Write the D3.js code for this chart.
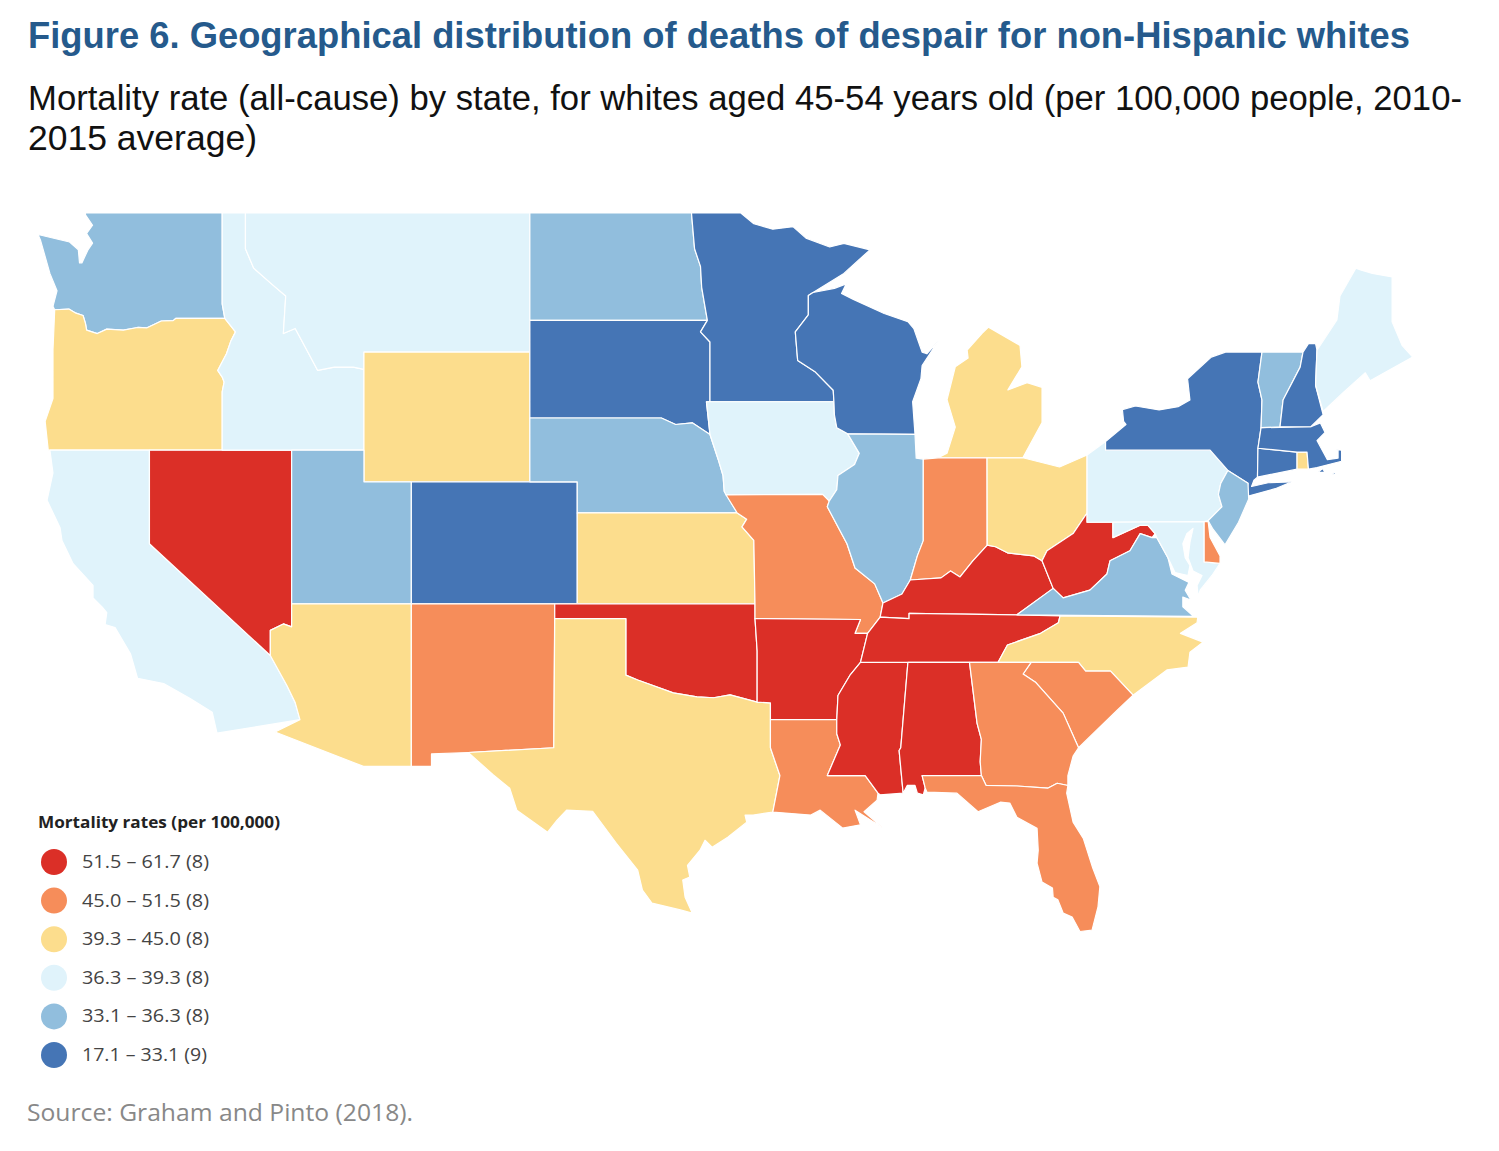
<!DOCTYPE html>
<meta charset="utf-8">
<style>
body { margin: 0; background: #fff; }
.state { stroke: #fff; stroke-width: 1.2; stroke-linejoin: round; }
.head { font-family: "Liberation Sans", sans-serif; }
.body { font-family: "Open Sans", sans-serif; }
</style>
<body>
<script src="https://cdnjs.cloudflare.com/ajax/libs/d3/7.8.5/d3.min.js"></script>
<script>

// legend classes, highest first
var binLabels = ["51.5 – 61.7 (8)", "45.0 – 51.5 (8)", "39.3 – 45.0 (8)", "36.3 – 39.3 (8)", "33.1 – 36.3 (8)", "17.1 – 33.1 (9)"];
var binColors = ["#db2f27", "#f68d5a", "#fcdd8d", "#e0f3fb", "#91bedd", "#4575b5"];

// which class each state falls in
var stateNames = ["WA","OR","CA","NV","ID","MT","WY","UT","AZ","CO","NM","ND","SD","NE","KS","OK","TX","MN","IA","MO","AR","LA","WI","IL","MS","MI","IN","KY","TN","AL","OH","WV","VA","NC","SC","GA","FL","PA","NY","MD","DE","NJ","CT","RI","MA","VT","NH","ME"];
var stateBins  = [4,2,3,0,3,3,2,4,2,5,1,4,5,4,2,0,2,5,3,1,0,1,5,4,0,2,1,0,0,0,2,0,4,2,1,1,1,3,5,3,1,4,5,2,5,4,5,3];

// shared borders, lon/lat
var columbia = [[-124.1,46.25],[-123.5,46.27],[-123.2,46.15],[-122.9,46.08],[-122.8,45.85],[-122.75,45.65],[-122.3,45.55],[-121.9,45.68],[-121.2,45.65],[-120.6,45.73],[-120.2,45.72],[-119.6,45.92],[-119.1,45.93],[-118.98,46],[-116.92,46]];
var snake = [[-116.92,46],[-116.47,45.6],[-116.67,45.32],[-116.85,44.95],[-117.22,44.45],[-117.03,44.25],[-116.95,44.1],[-117.03,43.8],[-117.03,42]];
var idahoMontana = [[-116.05,48],[-115.7,47.45],[-114.95,47],[-114.35,46.65],[-114.45,45.55],[-113.95,45.7],[-113.45,45.05],[-113,44.45],[-112.3,44.55],[-111.5,44.55],[-111.05,44.48]];
var redRiver = [[-100,34.56],[-99.5,34.39],[-98,33.94],[-97,33.8],[-96.3,33.77],[-95.6,33.87],[-94.46,33.62]];
var coloradoRiver = [[-115,35.24],[-114.3,34.2],[-113.95,33.6],[-113.75,33]];
var missouriRiver = [[-96.45,42.49],[-96.1,41.7],[-95.9,41.2],[-95.85,40.7],[-95.3,40],[-94.9,39.8],[-95.1,39.55],[-94.6,39.11]];
var dakotaMn = [[-97.23,49],[-97.1,48],[-96.85,47.5],[-96.8,46.9],[-96.56,45.94],[-96.85,45.6],[-96.45,45.3],[-96.45,43.5]];
var wiMn = [[-92.1,46.75],[-92.3,46.66],[-92.3,46.1],[-92.85,45.6],[-92.75,44.75],[-92,44.4],[-91.25,43.85],[-91.22,43.5],[-91.2,43.1],[-91.1,42.7],[-90.64,42.51]];
var upperMiss = [[-90.64,42.51],[-90.15,41.9],[-90.35,41.55],[-91.05,41.2],[-91.1,40.75],[-91.42,40.38]];
var midMiss = [[-91.42,40.38],[-91.5,40.2],[-90.67,39],[-90.33,38.2],[-89.5,37.67],[-89.15,37.03]];
var lowerMiss = [[-90.1,35],[-90.55,34.55],[-91.05,33.85],[-91.1,33]];
var ohioRiver = [[-89.15,37.03],[-88.35,37.33],[-88,37.8],[-86.7,37.87],[-86.3,38.1],[-85.9,37.9],[-85.35,38.44],[-84.75,38.95],[-84.4,38.9],[-83.9,38.7],[-82.8,38.6],[-82.44,38.44]];
var ncTn = [[-81.68,36.59],[-81.75,36.36],[-82.5,36],[-83.9,35.6],[-84.3,35]];
var gaSc = [[-82.9,35],[-83.24,34.6],[-82.7,34.3],[-81.55,33.23],[-80.9,32]];
var ncSc = [[-82.9,35],[-80.9,35],[-80.6,34.7],[-79.55,34.7],[-78.6,33.86]];

function rev(a) { return a.slice().reverse(); }

// rings per state, same order as stateNames
var stateRings = [
  [[[-124.8,48.4],[-123.47,48.19],[-123.1,47.97],[-123.05,47.6],[-122.95,47.6],[-122.7,47.96],[-122.5,48.16],[-122.75,48.43],[-122.5,48.66],[-122.8,48.95],[-122.8,49],[-117.03,49],[-117.03,46.42],...rev(columbia),[-124.17,46.35],[-124,46.8],[-124.3,47.3],[-124.7,48.25]]],
  [[...columbia,...snake.slice(1),[-124.37,42],[-124.5,42.9],[-124.17,43.6],[-124.17,45.06],[-124.1,46.2]]],
  [[[-124.3,42],[-120.1,42],[-120.1,39],...coloradoRiver,[-117.25,32.52],[-117.45,33.26],[-118.4,33.75],[-119.5,34.27],[-120.6,34.45],[-120.9,35.3],[-121.55,36.2],[-121.97,36.3],[-121.9,36.7],[-122.1,36.9],[-122.48,37.2],[-122.48,37.62],[-123.32,38.34],[-123.79,39.1],[-123.87,39.52],[-124.42,40.41],[-124.17,41.28]]],
  [[[-120.1,42],[-114.1,42],[-114.1,36.22],[-114.45,36.32],[-115,36.1],[-115,35.24],[-120.1,39]]],
  [[[-117.03,49],[-116.05,49],...idahoMontana,[-111.05,42],...rev(snake),[-117.03,46.42]]],
  [[[-116.05,49],[-104.05,49],[-104.05,45],[-111.05,45],...rev(idahoMontana)]],
  [[[-111.05,45],[-104.05,45],[-104.05,41],[-111.05,41]]],
  [[[-114.1,42],[-111.05,42],[-111.05,41],[-109.05,41],[-109.05,37],[-114.1,37]]],
  [[[-114.1,37],[-109.05,37],[-109.05,31.33],[-111.07,31.33],[-114.8,32.56],...rev(coloradoRiver),[-115,36.1],[-114.45,36.32],[-114.1,36.22]]],
  [[[-109.05,41],[-102.05,41],[-102.05,37],[-109.05,37]]],
  [[[-109.05,37],[-103,37],[-103.04,32],[-106.65,31.83],[-108.2,31.78],[-108.2,31.33],[-109.05,31.33]]],
  [[[-104.05,49],...dakotaMn.slice(0,5),[-104.05,45.94]]],
  [[[-104.05,45.94],...dakotaMn.slice(4),[-96.6,43.5],[-96.45,42.49],[-97.2,42.85],[-97.9,42.8],[-98.5,43],[-104.05,43]]],
  [[[-104.05,43],[-98.5,43],[-97.9,42.8],[-97.2,42.85],...missouriRiver.slice(0,5),[-102.05,40],[-102.05,41],[-104.05,41]]],
  [[[-102.05,40],...missouriRiver.slice(4),[-94.55,37],[-102.05,37]]],
  [[[-103,37],[-94.55,37],[-94.55,36.5],[-94.46,35.4],...rev(redRiver),[-100,36.5],[-103,36.5]]],
  [[[-103,36.5],[-100,36.5],...redRiver,[-93.9,33.59],[-93.9,32],[-93.5,31],[-93.8,29.67],[-94.63,29.56],[-94.97,29.56],[-94.9,29.3],[-95.7,28.74],[-96.36,28.37],[-96.66,28.63],[-96.87,28.26],[-97.4,27.7],[-97.3,27.26],[-97.6,27.15],[-97.5,26.5],[-97.2,25.9],[-97.7,26.02],[-98.9,26.28],[-99.3,26.77],[-99.5,27.52],[-100.4,28.52],[-101.4,29.7],[-102.5,29.74],[-102.9,29.37],[-103.3,28.93],[-104.6,29.74],[-104.9,30.54],[-105.6,31.03],[-106.65,31.83],[-103.04,32]]],
  [[...dakotaMn,...wiMn.slice(0,8).reverse(),[-90.8,47.3],[-89.7,47.97],[-90.8,48.15],[-91.4,48.05],[-92.4,48.3],[-92.95,48.62],[-93.8,48.55],[-94.6,48.7],[-95.15,49]].reverse()],
  [[[-96.45,43.5],[-91.22,43.5],[-91.2,43.1],[-91.1,42.7],...upperMiss,[-91.7,40.6],[-95.77,40.58],[-95.85,40.7],[-95.9,41.2],[-96.1,41.7],[-96.45,42.49],[-96.6,43.5]]],
  [[[-95.77,40.58],[-91.7,40.6],...midMiss,[-89.27,36.55],[-89.8,36],[-90.33,36],[-90.1,36.47],[-94.55,36.5],[-94.55,37],...rev(missouriRiver).slice(0,4)]],
  [[[-94.55,36.5],[-90.1,36.47],[-90.33,36],[-89.8,36],...lowerMiss,[-93.9,33],[-93.9,33.59],[-94.46,33.62],[-94.46,35.4]]],
  [[[-93.9,33],[-91.1,33],[-91.1,32.5],[-90.95,32.1],[-91.5,31],[-89.9,31],[-89.36,30.36],[-89.4,30.1],[-89.95,29.68],[-89.15,29.08],[-90.33,29.74],[-90.1,29.2],[-90.85,29.08],[-91.8,29.74],[-92.2,29.56],[-93.8,29.67],[-93.5,31],[-93.9,32]]],
  [[...wiMn,[-87.8,42.49],[-87.9,43.5],[-87.55,44.2],[-87.5,44.6],[-86.8,45.35],[-87.3,44.95],[-87.5,45],[-87.65,45.3],[-87.85,45.7],[-88.1,45.9],[-89.1,46.14],[-90.4,46.55],[-90.9,46.72],[-90.7,47],[-91.2,46.87]]],
  [[...upperMiss.slice(0,5),...midMiss,[-88.35,37.33],[-88,37.8],[-87.7,38.6],[-87.45,39.1],[-87.45,41.72],[-87.75,41.75],[-87.8,42.49]]],
  [[[-90.1,35],[-88.1,35],[-88.4,32],[-88.47,31.9],[-88.3,30.36],[-89.27,30.3],[-89.36,30.36],[-89.9,31],[-91.5,31],[-90.95,32.1],[-91.1,32.5],...rev(lowerMiss)]],
  [[[-86.82,41.76],[-84.76,41.76],[-83.25,41.76],[-82.44,42.86],[-82.44,43.94],[-83.07,44.08],[-83.88,43.86],[-83.29,44.56],[-83.37,45.2],[-84.7,45.74],[-84.97,45.56],[-85.6,45.06],[-85.56,44.82],[-86.1,44.56],[-86.45,43.56],[-86.1,42.72],[-86.45,41.9]]],
  [[[-87.45,41.72],[-86.82,41.76],[-84.76,41.76],[-84.76,38.95],...rev(ohioRiver.slice(2,8)),[-87.7,38.6],[-87.45,39.1]]],
  [[[-89.27,36.55],...ohioRiver,[-81.97,37.52],[-83.5,36.63],[-88.05,36.68],[-88.05,36.5]]],
  [[[-89.27,36.55],[-88.05,36.5],[-88.05,36.68],[-83.5,36.63],...ncTn,[-90.1,35],[-89.8,36]]],
  [[[-88.1,35],[-85.5,35],[-85.18,32.87],[-85,32.3],[-85.05,31.5],[-85,31],[-87.5,31],[-87.37,30.55],[-87.45,30.3],[-87.7,30.36],[-87.8,30.64],[-88.13,30.64],[-88.3,30.36],[-88.47,31.9],[-88.4,32]]],
  [[[-84.76,41.76],[-83.25,41.76],[-81.7,41.47],[-80.54,41.85],[-80.54,40],[-81.13,39.33],[-82.23,38.77],...rev(ohioRiver.slice(7))]],
  [[[-80.54,40],[-80.54,39.7],[-79.45,39.7],[-79.45,39.2],[-78.3,39.6],[-77.97,39.6],[-77.67,39.33],[-77.8,39.2],[-78.3,39.33],[-78.73,38.77],[-79.57,38.44],[-79.7,38],[-80.42,37.46],[-81.55,37.2],[-81.97,37.52],[-82.44,38.44],[-82.23,38.77],[-81.13,39.33]]],
  [[[-83.5,36.63],[-81.97,37.52],[-81.55,37.2],[-80.42,37.46],[-79.7,38],[-79.57,38.44],[-78.73,38.77],[-78.3,39.33],[-77.8,39.2],[-77.6,39.2],[-77.13,38.54],[-76.96,38],[-76.24,37.72],[-76.4,37.46],[-76.16,37.13],[-76.5,37.23],[-76.5,36.9],[-76.05,36.58]]],
  [[...ncTn,[-82.9,35],...ncSc.slice(1),[-77.17,34.74],[-76.28,34.84],[-76.2,35.35],[-75.65,35.7],[-76.6,36],[-75.9,36.36],[-75.87,36.55]]],
  [[...ncSc,[-79.27,33.33],...rev(gaSc).slice(0,4)]],
  [[[-85.5,35],...gaSc,[-81.13,31.7],[-81.35,31],[-81.35,30.64],[-81.8,30.72],[-82.2,30.54],[-83.5,30.62],[-84.8,30.64],[-85,31],[-85.05,31.5],[-85,32.3],[-85.18,32.87]]],
  [[[-87.5,31],[-85,31],[-84.8,30.64],[-83.5,30.62],[-82.2,30.54],[-81.8,30.72],[-81.35,30.64],[-81.4,30.36],[-81.13,29.3],[-80.7,28.7],[-80.3,27.6],[-80,26.9],[-80.08,26.13],[-80.33,25.25],[-80.84,25.2],[-81.17,25.75],[-81.55,25.9],[-81.77,26.4],[-81.97,26.5],[-82,26.85],[-82.44,27.07],[-82.65,27.78],[-82.6,28.26],[-82.65,29.07],[-83.5,29.48],[-83.8,30],[-84.2,30.03],[-85.14,29.68],[-86.03,30.36],[-87.3,30.4],[-87.37,30.55]]],
  [[[-80.54,41.85],[-79.76,42.27],[-79.76,42],[-75.35,42],[-74.6,41.36],[-74.9,40.95],[-75,40.6],[-74.85,40.2],[-75.43,39.75],[-75.6,39.72],[-80.54,39.7]]],
  [[[-79.76,42.27],[-79.76,42],[-75.35,42],[-74.6,41.36],[-73.75,40.95],[-73.85,40.52],[-72.6,40.78],[-71.9,41],[-72.9,40.97],[-73.6,40.85],[-73.5,41.05],[-73.35,41.15],[-73.33,42.06],[-73.2,42.7],[-73.16,43.55],[-73.33,44.1],[-73.16,45],[-74.7,45],[-75.3,44.85],[-76.3,44.2],[-76.2,43.55],[-76.7,43.35],[-77.5,43.25],[-78.5,43.37],[-79.05,43.26],[-79,42.9],[-78.9,42.8]]],
  [[[-79.45,39.7],[-75.6,39.72],[-75.6,38.4],[-74.93,38.35],[-75.27,37.95],[-75.77,37.46],[-75.85,37.23],[-75.9,37.62],[-75.69,37.95],[-76.07,38.1],[-76.28,38.54],[-76.2,39.04],[-76.07,39.5],[-76.33,39.33],[-76.5,39],[-76.4,38.54],[-76.2,38.28],[-76.28,37.95],[-76.83,38.05],[-77.13,38.54],[-77.6,39.2],[-77.67,39.33],[-77.97,39.6],[-78.3,39.6],[-79.45,39.2]]],
  [[[-75.6,39.72],[-75.43,39.72],[-75.35,39.2],[-74.93,38.6],[-74.93,38.35],[-75.6,38.4]]],
  [[[-74.6,41.36],[-73.75,40.95],[-73.72,40.45],[-74.15,39.7],[-74.72,38.96],[-75.25,39.5],[-75.43,39.75],[-74.85,40.2],[-75,40.6],[-74.9,40.95]]],
  [[[-73.33,42.06],[-71.68,41.94],[-71.68,41.4],[-73.35,41.15]]],
  [[[-71.68,41.94],[-71.26,41.94],[-71.2,41.4],[-71.68,41.4]]],
  [[[-73.2,42.7],[-71.1,42.73],[-70.7,42.85],[-70.5,42.55],[-70.84,42.3],[-70.4,41.7],[-69.95,41.75],[-69.95,42],[-70.1,42.02],[-69.8,42],[-69.8,41.65],[-70.84,41.45],[-71.2,41.4],[-71.26,41.94],[-71.68,41.94],[-73.33,42.06]],
   [[-70.8,41.3],[-70.5,41.3],[-70.6,41.42]],
   [[-70.2,41.25],[-70,41.22],[-70.1,41.3]]],
  [[[-73.16,45],[-71.43,45],[-71.55,44.55],[-72.27,43.55],[-72.4,42.73],[-73.2,42.7],[-73.16,43.55],[-73.33,44.1]]],
  [[[-71.43,45],[-71.2,45.25],[-70.9,45.25],[-70.84,45.06],[-70.9,44],[-70.58,43.1],[-71.1,42.73],[-72.4,42.73],[-72.27,43.55],[-71.55,44.55]]],
  [[[-70.84,45.06],[-70,45.95],[-69.87,46.65],[-69.2,47.45],[-69,47.4],[-68.5,47.3],[-67.67,47.2],[-67.67,45.9],[-67.25,45.2],[-66.8,44.85],[-68.6,44.14],[-68.8,44.38],[-69.75,43.77],[-70.58,43.2],[-70.9,44]]]
];

var width = 1499, height = 1151;

// mercator, sized so the 49th parallel sits where the reference has it
var projection = d3.geoMercator().scale(1358).translate([2996, 1549]);
var line = d3.line().curve(d3.curveLinearClosed);
var color = d3.scaleOrdinal(d3.range(binLabels.length), binColors);

var svg = d3.select("body").append("svg")
    .attr("width", width)
    .attr("height", height);

svg.append("text").attr("class", "head")
    .attr("x", 28).attr("y", 48)
    .attr("textLength", 1382).attr("lengthAdjust", "spacingAndGlyphs")
    .style("font-size", "37px").style("font-weight", "bold").style("fill", "#255a8c")
    .text("Figure 6. Geographical distribution of deaths of despair for non-Hispanic whites");

var subtitle = ["Mortality rate (all-cause) by state, for whites aged 45-54 years old (per 100,000 people, 2010-", "2015 average)"];
var subtitleWidth = [1434, 229];
svg.selectAll(".sub").data(subtitle).enter().append("text")
    .attr("class", "head sub")
    .attr("x", 28)
    .attr("y", function(d, i) { return 110 + i * 40; })
    .attr("textLength", function(d, i) { return subtitleWidth[i]; })
    .attr("lengthAdjust", "spacingAndGlyphs")
    .style("font-size", "35px").style("fill", "#111")
    .text(function(d) { return d; });

// the states
var states = svg.append("g");
stateNames.forEach(function(name, i) {
  var d = stateRings[i].map(function(ring) {
    return line(ring.map(function(p) { return projection(p); }));
  }).join("");
  states.append("path")
      .attr("class", "state")
      .attr("d", d)
      .attr("fill", color(stateBins[i]));
});

// legend
svg.append("text").attr("class", "body")
    .attr("x", 38).attr("y", 828)
    .attr("textLength", 242).attr("lengthAdjust", "spacingAndGlyphs")
    .style("font-size", "16.5px").style("font-weight", "bold").style("fill", "#222")
    .text("Mortality rates (per 100,000)");

var legendY = d3.scalePoint().domain(d3.range(binLabels.length)).range([862, 1055]);
var legend = svg.selectAll(".legend").data(binLabels).enter().append("g")
    .attr("class", "legend")
    .attr("transform", function(d, i) { return "translate(0," + legendY(i) + ")"; });
legend.append("circle")
    .attr("cx", 54).attr("r", 13)
    .attr("fill", function(d, i) { return binColors[i]; });
legend.append("text").attr("class", "body")
    .attr("x", 82).attr("y", 6)
    .attr("textLength", function(d, i) { return i == 5 ? 125 : 127; })
    .attr("lengthAdjust", "spacingAndGlyphs")
    .style("font-size", "17.5px").style("fill", "#444")
    .text(function(d) { return d; });

svg.append("text").attr("class", "body")
    .attr("x", 27).attr("y", 1121)
    .attr("textLength", 386).attr("lengthAdjust", "spacingAndGlyphs")
    .style("font-size", "23px").style("fill", "#888")
    .text("Source: Graham and Pinto (2018).");

</script>
</body>
